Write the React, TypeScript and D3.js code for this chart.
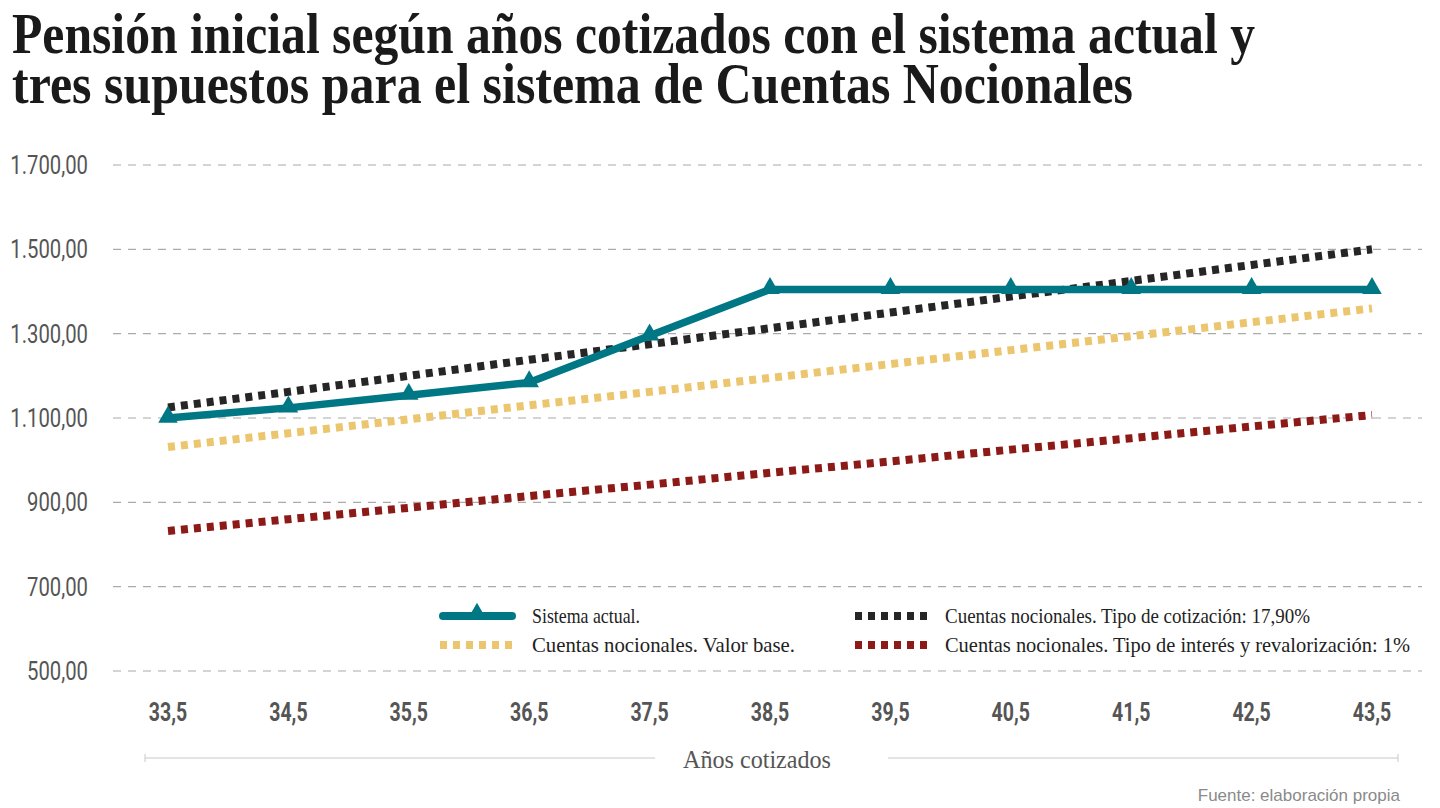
import React from "react";
import * as d3 from "d3";

const years = [33.5, 34.5, 35.5, 36.5, 37.5, 38.5, 39.5, 40.5, 41.5, 42.5, 43.5];
const sistemaActual = [1100, 1124, 1154, 1184, 1295, 1405, 1405, 1405, 1405, 1405, 1405];
const cotizacion1790 = [1125, 1162, 1200, 1238, 1275, 1313, 1350, 1388, 1425, 1463, 1500];
const valorBase = [1031, 1064, 1097, 1130, 1162, 1195, 1228, 1261, 1294, 1327, 1360];
const interes1 = [832, 860, 887, 915, 942, 970, 997, 1025, 1052, 1080, 1107];
const yTicks = [500, 700, 900, 1100, 1300, 1500, 1700];

const titleLines = [
  "Pensión inicial según años cotizados con el sistema actual y",
  "tres supuestos para el sistema de Cuentas Nocionales",
];

const W = 1440;
const H = 808;

const x = d3.scaleLinear().domain([33.5, 43.5]).range([168, 1372]);
const y = d3.scaleLinear().domain([500, 1700]).range([671, 165]);

const fmtY = (v: number) =>
  d3.format(",.2f")(v).replace(/,/g, "#").replace(".", ",").replace(/#/g, ".");
const fmtX = (v: number) => String(v).replace(".", ",");

const TEAL = "#007785";
const BLACK = "#262626";
const YELLOW = "#EBC66F";
const RED = "#8C1A17";

export default function App() {
  const line = d3
    .line<number>()
    .x((_, i) => x(years[i]))
    .y((d) => y(d));
  const tri = d3.symbol().type(d3.symbolTriangle).size(165)() as string;

  const dotted = [
    { data: cotizacion1790, color: BLACK },
    { data: valorBase, color: YELLOW },
    { data: interes1, color: RED },
  ];

  const serif = "'Liberation Serif', 'DejaVu Serif', serif";
  const legendItems = [
    { label: "Sistema actual.", color: TEAL, kind: "solid", lx: 440, ly: 616, tx: 532, w: 108 },
    { label: "Cuentas nocionales. Valor base.", color: YELLOW, kind: "dot", lx: 440, ly: 645, tx: 532, w: 263 },
    { label: "Cuentas nocionales. Tipo de cotización: 17,90%", color: BLACK, kind: "dot", lx: 855, ly: 616, tx: 945, w: 365 },
    { label: "Cuentas nocionales. Tipo de interés y revalorización: 1%", color: RED, kind: "dot", lx: 855, ly: 645, tx: 945, w: 465 },
  ];

  return (
    <svg width={W} height={H} style={{ display: "block", position: "absolute", left: 0, top: 0, background: "#fff" }}>
      <rect width={W} height={H} fill="#fff" />
      {/* Title */}
      <text x={12} y={53} fontFamily={serif} fontWeight="bold" fontSize={56} fill="#1a1a1a"
        textLength={1243} lengthAdjust="spacingAndGlyphs">{titleLines[0]}</text>
      <text x={12} y={103} fontFamily={serif} fontWeight="bold" fontSize={56} fill="#1a1a1a"
        textLength={1121} lengthAdjust="spacingAndGlyphs">{titleLines[1]}</text>

      {/* Grid + y labels */}
      {yTicks.map((t) => (
        <g key={t}>
          <line x1={113} x2={1422} y1={y(t)} y2={y(t)} stroke="#aaa" strokeWidth={1.2} strokeDasharray="8 7" />
          <text transform={`translate(88,${y(t) + 9}) scale(0.78,1)`} textAnchor="end"
            fontFamily="Roboto, sans-serif" fontSize={26} fill="#555">{fmtY(t)}</text>
        </g>
      ))}

      {/* X labels */}
      {years.map((v) => (
        <text key={v} transform={`translate(${x(v)},${721}) scale(0.78,1)`} textAnchor="middle"
          fontFamily="Roboto, sans-serif" fontWeight="bold" fontSize={25} fill="#555">{fmtX(v)}</text>
      ))}

      {/* Dotted series */}
      {dotted.map((s, i) => (
        <path key={i} d={line(s.data) as string} fill="none" stroke={s.color} strokeWidth={8}
          strokeDasharray="7 6" />
      ))}

      {/* Sistema actual */}
      <path d={line(sistemaActual) as string} fill="none" stroke={TEAL} strokeWidth={7.5} strokeLinejoin="round" />
      {sistemaActual.map((v, i) => (
        <path key={i} d={tri} transform={`translate(${x(years[i])},${y(v) - 1})`} fill={TEAL} />
      ))}

      {/* Legend */}
      {legendItems.map((it) => (
        <g key={it.label}>
          {it.kind === "solid" ? (
            <g>
              <line x1={443} x2={512} y1={it.ly} y2={it.ly} stroke={it.color} strokeWidth={8} strokeLinecap="round" />
              <path d={tri} transform={`translate(477,${it.ly - 2})`} fill={it.color} />
            </g>
          ) : (
            <line x1={it.lx} x2={it.lx + 72} y1={it.ly} y2={it.ly} stroke={it.color} strokeWidth={8}
              strokeDasharray="7 6" />
          )}
          <text x={it.tx} y={it.ly + 7} fontFamily={serif} fontSize={21} fill="#222"
            textLength={it.w} lengthAdjust="spacingAndGlyphs">{it.label}</text>
        </g>
      ))}

      {/* X axis title */}
      <line x1={145} x2={655} y1={758} y2={758} stroke="#c8c8c8" strokeWidth={1} />
      <line x1={888} x2={1398} y1={758} y2={758} stroke="#c8c8c8" strokeWidth={1} />
      <line x1={145} x2={145} y1={754} y2={762} stroke="#c8c8c8" strokeWidth={1} />
      <line x1={1398} x2={1398} y1={754} y2={762} stroke="#c8c8c8" strokeWidth={1} />
      <text x={757} y={768} textAnchor="middle" fontFamily={serif}
        fontSize={26} fill="#555" textLength={148} lengthAdjust="spacingAndGlyphs">Años cotizados</text>

      {/* Source */}
      <text x={1400} y={801} textAnchor="end" fontFamily="'Liberation Sans', Arial, sans-serif"
        fontSize={17} fill="#8a8a8a">Fuente: elaboración propia</text>
    </svg>
  );
}
